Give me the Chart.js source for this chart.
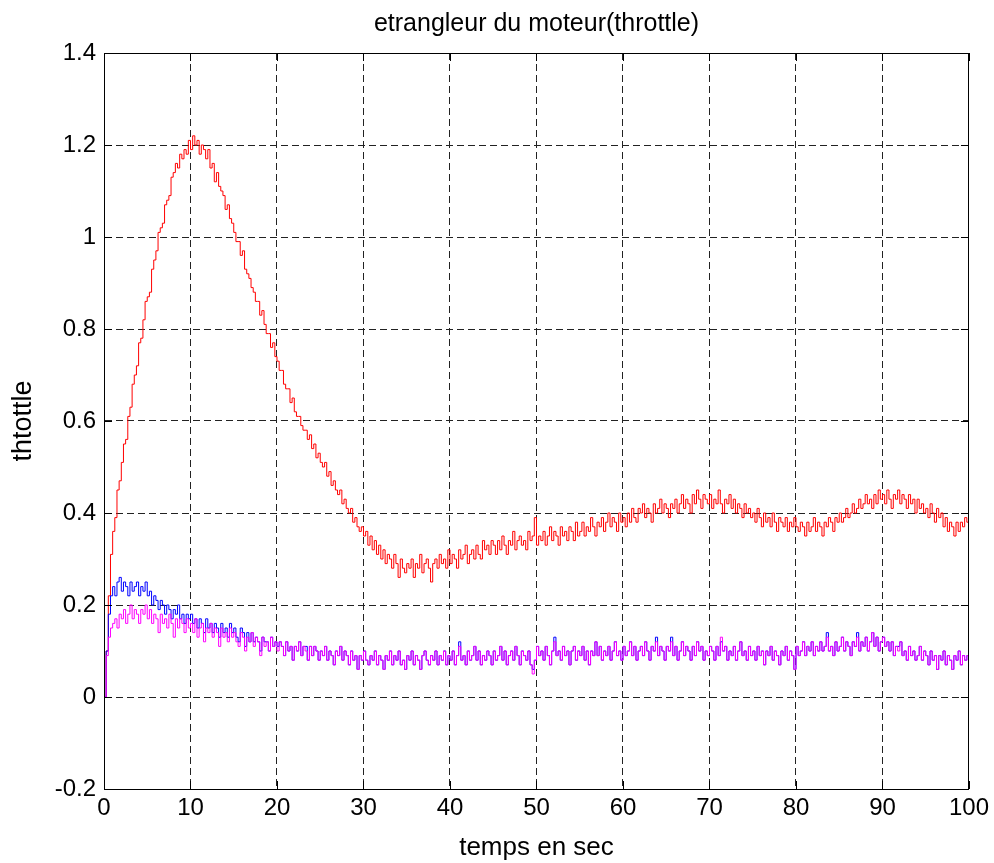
<!DOCTYPE html>
<html>
<head>
<meta charset="utf-8">
<title>etrangleur du moteur</title>
<script src="https://cdn.jsdelivr.net/npm/chart.js@4.4.0/dist/chart.umd.min.js"></script>
<style>
  html, body { margin: 0; padding: 0; background: #fff; }
  canvas { display: block; }
</style>
</head>
<body>
<canvas id="throttleChart" width="994" height="863"></canvas>
<script>
// sample period of the logged throttle signals, seconds
const dt = 0.25;

// one row = 5 s of samples
const redThrottle = [
  0.00, 0.10, 0.22, 0.31, 0.36, 0.39, 0.45, 0.47, 0.51, 0.55, 0.56, 0.61, 0.63, 0.68, 0.70, 0.72, 0.77, 0.78, 0.82, 0.86,
  0.87, 0.88, 0.93, 0.95, 0.97, 1.01, 1.02, 1.03, 1.07, 1.08, 1.09, 1.13, 1.14, 1.16, 1.15, 1.18, 1.17, 1.19, 1.18, 1.21,
  1.19, 1.22, 1.20, 1.21, 1.18, 1.20, 1.19, 1.17, 1.19, 1.15, 1.16, 1.12, 1.14, 1.11, 1.10, 1.09, 1.06, 1.07, 1.04, 1.03,
  1.01, 0.99, 0.99, 0.96, 0.97, 0.93, 0.92, 0.91, 0.89, 0.88, 0.86, 0.86, 0.83, 0.84, 0.81, 0.79, 0.79, 0.76, 0.77, 0.74,
  0.73, 0.71, 0.71, 0.68, 0.67, 0.67, 0.64, 0.65, 0.62, 0.61, 0.61, 0.59, 0.58, 0.58, 0.56, 0.57, 0.54, 0.55, 0.52, 0.53,
  0.51, 0.50, 0.51, 0.48, 0.49, 0.46, 0.47, 0.45, 0.44, 0.45, 0.42, 0.43, 0.41, 0.40, 0.41, 0.38, 0.39, 0.37, 0.36, 0.37,
  0.35, 0.36, 0.33, 0.35, 0.32, 0.34, 0.31, 0.33, 0.30, 0.32, 0.29, 0.31, 0.30, 0.28, 0.31, 0.29, 0.26, 0.30, 0.28, 0.27,
  0.29, 0.28, 0.30, 0.26, 0.29, 0.28, 0.31, 0.27, 0.29, 0.30, 0.28, 0.25, 0.29, 0.30, 0.28, 0.31, 0.29, 0.30, 0.28, 0.32,
  0.29, 0.31, 0.30, 0.28, 0.32, 0.30, 0.31, 0.33, 0.29, 0.31, 0.32, 0.30, 0.33, 0.31, 0.30, 0.34, 0.32, 0.33, 0.31, 0.34,
  0.33, 0.31, 0.34, 0.32, 0.35, 0.33, 0.31, 0.34, 0.33, 0.36, 0.32, 0.34, 0.35, 0.33, 0.34, 0.32, 0.36, 0.34, 0.35, 0.39,
  0.33, 0.35, 0.34, 0.36, 0.33, 0.35, 0.37, 0.34, 0.36, 0.35, 0.33, 0.37, 0.35, 0.36, 0.34, 0.37, 0.36, 0.34, 0.38, 0.35,
  0.36, 0.38, 0.35, 0.37, 0.36, 0.39, 0.37, 0.35, 0.38, 0.37, 0.39, 0.36, 0.38, 0.40, 0.37, 0.39, 0.38, 0.36, 0.40, 0.38,
  0.39, 0.37, 0.40, 0.38, 0.41, 0.39, 0.38, 0.41, 0.40, 0.42, 0.39, 0.41, 0.40, 0.38, 0.42, 0.40, 0.41, 0.43, 0.40, 0.42,
  0.41, 0.39, 0.42, 0.41, 0.43, 0.40, 0.42, 0.44, 0.41, 0.43, 0.42, 0.40, 0.44, 0.42, 0.45, 0.43, 0.41, 0.44, 0.43, 0.42,
  0.44, 0.41, 0.43, 0.42, 0.45, 0.42, 0.40, 0.43, 0.42, 0.44, 0.41, 0.43, 0.40, 0.42, 0.41, 0.39, 0.42, 0.40, 0.41, 0.39,
  0.40, 0.38, 0.41, 0.39, 0.37, 0.40, 0.38, 0.39, 0.37, 0.40, 0.38, 0.36, 0.39, 0.38, 0.37, 0.39, 0.36, 0.38, 0.37, 0.39,
  0.37, 0.36, 0.38, 0.37, 0.35, 0.38, 0.36, 0.37, 0.39, 0.36, 0.38, 0.37, 0.35, 0.38, 0.37, 0.39, 0.38, 0.36, 0.39, 0.38,
  0.40, 0.38, 0.39, 0.41, 0.39, 0.40, 0.42, 0.40, 0.41, 0.43, 0.41, 0.42, 0.44, 0.42, 0.43, 0.41, 0.44, 0.42, 0.45, 0.43,
  0.44, 0.42, 0.45, 0.43, 0.41, 0.44, 0.43, 0.45, 0.42, 0.44, 0.43, 0.41, 0.44, 0.42, 0.43, 0.40, 0.43, 0.41, 0.42, 0.40,
  0.41, 0.39, 0.42, 0.40, 0.38, 0.41, 0.39, 0.40, 0.37, 0.39, 0.36, 0.38, 0.37, 0.35, 0.38, 0.36, 0.38, 0.37, 0.39, 0.38,
  0.39
];

const blueThrottle = [
  0.00, 0.10, 0.18, 0.22, 0.24, 0.22, 0.25, 0.26, 0.23, 0.25, 0.24, 0.22, 0.25, 0.23, 0.24, 0.25, 0.22, 0.24, 0.23, 0.25,
  0.22, 0.23, 0.20, 0.22, 0.21, 0.19, 0.21, 0.20, 0.18, 0.20, 0.19, 0.17, 0.19, 0.18, 0.20, 0.17, 0.18, 0.16, 0.18, 0.17,
  0.18, 0.16, 0.17, 0.15, 0.17, 0.16, 0.14, 0.17, 0.15, 0.16, 0.14, 0.16, 0.15, 0.13, 0.16, 0.14, 0.15, 0.13, 0.16, 0.14,
  0.15, 0.13, 0.12, 0.15, 0.14, 0.11, 0.14, 0.12, 0.14, 0.12, 0.13, 0.12, 0.10, 0.13, 0.12, 0.12, 0.10, 0.13, 0.11, 0.12,
  0.11, 0.12, 0.11, 0.09, 0.12, 0.10, 0.11, 0.08, 0.11, 0.10, 0.12, 0.09, 0.11, 0.11, 0.08, 0.11, 0.09, 0.11, 0.10, 0.08,
  0.10, 0.09, 0.11, 0.08, 0.10, 0.09, 0.07, 0.10, 0.09, 0.11, 0.08, 0.10, 0.09, 0.07, 0.10, 0.08, 0.09, 0.06, 0.09, 0.08,
  0.10, 0.08, 0.07, 0.09, 0.08, 0.10, 0.07, 0.09, 0.08, 0.06, 0.09, 0.08, 0.10, 0.07, 0.09, 0.08, 0.10, 0.07, 0.08, 0.06,
  0.09, 0.08, 0.10, 0.07, 0.09, 0.08, 0.06, 0.09, 0.10, 0.08, 0.07, 0.09, 0.08, 0.10, 0.07, 0.09, 0.08, 0.10, 0.07, 0.09,
  0.08, 0.10, 0.07, 0.09, 0.12, 0.08, 0.09, 0.07, 0.10, 0.08, 0.09, 0.11, 0.08, 0.10, 0.07, 0.09, 0.08, 0.10, 0.09, 0.07,
  0.10, 0.08, 0.09, 0.11, 0.08, 0.10, 0.07, 0.09, 0.10, 0.08, 0.11, 0.09, 0.07, 0.10, 0.09, 0.08, 0.10, 0.07, 0.06, 0.08,
  0.11, 0.09, 0.10, 0.08, 0.11, 0.09, 0.07, 0.10, 0.13, 0.09, 0.10, 0.08, 0.11, 0.09, 0.10, 0.07, 0.10, 0.11, 0.08, 0.10,
  0.09, 0.11, 0.08, 0.10, 0.07, 0.10, 0.09, 0.12, 0.09, 0.11, 0.08, 0.10, 0.09, 0.11, 0.08, 0.10, 0.12, 0.09, 0.10, 0.08,
  0.11, 0.09, 0.10, 0.12, 0.09, 0.11, 0.08, 0.10, 0.11, 0.09, 0.12, 0.10, 0.08, 0.11, 0.10, 0.13, 0.09, 0.11, 0.10, 0.08,
  0.11, 0.10, 0.13, 0.09, 0.11, 0.08, 0.10, 0.12, 0.09, 0.11, 0.10, 0.08, 0.11, 0.09, 0.12, 0.10, 0.11, 0.08, 0.10, 0.09,
  0.11, 0.10, 0.08, 0.11, 0.09, 0.12, 0.10, 0.11, 0.08, 0.10, 0.09, 0.11, 0.08, 0.10, 0.12, 0.09, 0.10, 0.08, 0.11, 0.09,
  0.10, 0.08, 0.11, 0.09, 0.10, 0.07, 0.10, 0.09, 0.11, 0.08, 0.10, 0.09, 0.07, 0.10, 0.09, 0.11, 0.08, 0.10, 0.09, 0.06,
  0.11, 0.09, 0.10, 0.12, 0.09, 0.11, 0.10, 0.12, 0.09, 0.11, 0.10, 0.12, 0.10, 0.11, 0.14, 0.10, 0.11, 0.09, 0.12, 0.10,
  0.11, 0.13, 0.10, 0.12, 0.11, 0.09, 0.12, 0.11, 0.14, 0.10, 0.12, 0.11, 0.13, 0.10, 0.12, 0.14, 0.11, 0.13, 0.10, 0.12,
  0.13, 0.11, 0.12, 0.10, 0.12, 0.09, 0.11, 0.11, 0.12, 0.09, 0.10, 0.08, 0.11, 0.09, 0.10, 0.08, 0.09, 0.11, 0.08, 0.10,
  0.09, 0.07, 0.10, 0.08, 0.09, 0.06, 0.09, 0.08, 0.10, 0.07, 0.09, 0.08, 0.06, 0.09, 0.08, 0.10, 0.07, 0.09, 0.08, 0.09,
  0.10
];

const magentaThrottle = [
  0.00, 0.09, 0.13, 0.15, 0.16, 0.17, 0.15, 0.18, 0.17, 0.19, 0.16, 0.18, 0.20, 0.17, 0.19, 0.18, 0.16, 0.19, 0.18, 0.20,
  0.17, 0.19, 0.16, 0.18, 0.17, 0.14, 0.18, 0.16, 0.17, 0.15, 0.18, 0.16, 0.13, 0.17, 0.15, 0.17, 0.16, 0.14, 0.17, 0.15,
  0.16, 0.14, 0.17, 0.13, 0.15, 0.16, 0.12, 0.15, 0.14, 0.16, 0.13, 0.15, 0.14, 0.11, 0.15, 0.13, 0.14, 0.12, 0.15, 0.13,
  0.14, 0.12, 0.11, 0.14, 0.13, 0.10, 0.13, 0.12, 0.14, 0.11, 0.13, 0.12, 0.09, 0.13, 0.11, 0.12, 0.10, 0.13, 0.11, 0.12,
  0.10, 0.12, 0.11, 0.09, 0.12, 0.10, 0.11, 0.08, 0.11, 0.10, 0.12, 0.09, 0.11, 0.10, 0.08, 0.11, 0.09, 0.11, 0.10, 0.08,
  0.10, 0.09, 0.11, 0.08, 0.10, 0.09, 0.07, 0.10, 0.09, 0.11, 0.08, 0.10, 0.09, 0.07, 0.10, 0.08, 0.09, 0.06, 0.09, 0.08,
  0.10, 0.08, 0.07, 0.09, 0.08, 0.10, 0.07, 0.09, 0.08, 0.06, 0.09, 0.08, 0.10, 0.07, 0.09, 0.08, 0.10, 0.07, 0.08, 0.06,
  0.09, 0.08, 0.10, 0.07, 0.09, 0.08, 0.06, 0.09, 0.10, 0.08, 0.07, 0.09, 0.08, 0.10, 0.07, 0.09, 0.08, 0.10, 0.07, 0.09,
  0.08, 0.10, 0.07, 0.09, 0.11, 0.08, 0.09, 0.07, 0.10, 0.08, 0.09, 0.11, 0.08, 0.10, 0.07, 0.09, 0.08, 0.10, 0.09, 0.07,
  0.10, 0.08, 0.09, 0.11, 0.08, 0.10, 0.07, 0.09, 0.10, 0.08, 0.11, 0.09, 0.07, 0.10, 0.09, 0.08, 0.10, 0.07, 0.05, 0.08,
  0.11, 0.09, 0.10, 0.08, 0.11, 0.09, 0.07, 0.10, 0.12, 0.09, 0.10, 0.08, 0.11, 0.09, 0.10, 0.07, 0.10, 0.11, 0.08, 0.10,
  0.09, 0.11, 0.08, 0.10, 0.07, 0.10, 0.09, 0.12, 0.09, 0.11, 0.08, 0.10, 0.09, 0.11, 0.08, 0.10, 0.12, 0.09, 0.10, 0.08,
  0.11, 0.09, 0.10, 0.12, 0.09, 0.11, 0.08, 0.10, 0.11, 0.09, 0.12, 0.10, 0.08, 0.11, 0.10, 0.12, 0.09, 0.11, 0.10, 0.08,
  0.11, 0.10, 0.12, 0.09, 0.11, 0.08, 0.10, 0.12, 0.09, 0.11, 0.10, 0.08, 0.11, 0.09, 0.12, 0.10, 0.11, 0.08, 0.10, 0.09,
  0.11, 0.10, 0.08, 0.11, 0.09, 0.13, 0.10, 0.11, 0.08, 0.10, 0.09, 0.11, 0.08, 0.10, 0.12, 0.09, 0.10, 0.08, 0.11, 0.09,
  0.10, 0.08, 0.11, 0.09, 0.10, 0.07, 0.10, 0.09, 0.11, 0.08, 0.10, 0.09, 0.07, 0.10, 0.09, 0.11, 0.08, 0.10, 0.09, 0.06,
  0.11, 0.09, 0.10, 0.12, 0.09, 0.11, 0.10, 0.12, 0.09, 0.11, 0.10, 0.12, 0.10, 0.11, 0.13, 0.10, 0.11, 0.09, 0.12, 0.10,
  0.11, 0.13, 0.10, 0.12, 0.11, 0.09, 0.12, 0.11, 0.13, 0.10, 0.12, 0.11, 0.13, 0.10, 0.12, 0.14, 0.11, 0.13, 0.10, 0.12,
  0.13, 0.11, 0.12, 0.10, 0.12, 0.09, 0.11, 0.10, 0.12, 0.09, 0.10, 0.08, 0.11, 0.09, 0.10, 0.08, 0.09, 0.11, 0.08, 0.10,
  0.09, 0.07, 0.10, 0.08, 0.09, 0.06, 0.09, 0.08, 0.10, 0.07, 0.09, 0.08, 0.06, 0.09, 0.08, 0.10, 0.07, 0.09, 0.08, 0.09,
  0.10
];

const xTicks = [0, 10, 20, 30, 40, 50, 60, 70, 80, 90, 100];
const yTicks = [-0.2, 0, 0.2, 0.4, 0.6, 0.8, 1, 1.2, 1.4];

const FONT = 'Liberation Sans, Arial, sans-serif';

const toPoints = arr => arr.map((v, i) => ({ x: i * dt, y: v }));

// solid frame with short inward tick marks on all four sides
const axesBox = {
  id: 'axesBox',
  afterDraw(chart) {
    const { ctx, chartArea: a, scales: { x, y } } = chart;
    const len = 8;
    ctx.save();
    ctx.strokeStyle = '#000';
    ctx.lineWidth = 1;
    ctx.setLineDash([]);
    ctx.beginPath();
    x.ticks.forEach(t => {
      const px = Math.round(x.getPixelForValue(t.value)) + 0.5;
      ctx.moveTo(px, a.bottom); ctx.lineTo(px, a.bottom - len);
      ctx.moveTo(px, a.top); ctx.lineTo(px, a.top + len);
    });
    y.ticks.forEach(t => {
      const py = Math.round(y.getPixelForValue(t.value)) + 0.5;
      ctx.moveTo(a.left, py); ctx.lineTo(a.left + len, py);
      ctx.moveTo(a.right, py); ctx.lineTo(a.right - len, py);
    });
    ctx.stroke();
    ctx.strokeRect(Math.round(a.left) + 0.5, Math.round(a.top) + 0.5,
      Math.round(a.width) - 1, Math.round(a.height));
    ctx.restore();
  }
};

// lower `order` is painted last, so magenta sits over blue
const line = (data, color, order) => ({
  data: toPoints(data),
  borderColor: color,
  borderWidth: 1,
  pointRadius: 0,
  stepped: true,
  fill: false,
  order: order
});

new Chart(document.getElementById('throttleChart'), {
  type: 'line',
  data: {
    datasets: [
      line(redThrottle, '#ff0000', 2),
      line(blueThrottle, '#0000ff', 1),
      line(magentaThrottle, '#ff00ff', 0)
    ]
  },
  options: {
    responsive: false,
    animation: false,
    layout: { padding: { left: 0, right: 24, top: 0, bottom: 0 } },
    plugins: {
      legend: { display: false },
      tooltip: { enabled: false },
      title: {
        display: true,
        fullSize: false,
        text: 'etrangleur du moteur(throttle)',
        color: '#000',
        font: { family: FONT, size: 25, weight: 'normal' },
        padding: { top: 9, bottom: 14 }
      }
    },
    scales: {
      x: {
        type: 'linear',
        min: xTicks[0],
        max: xTicks[xTicks.length - 1],
        afterBuildTicks: s => { s.ticks = xTicks.map(v => ({ value: v })); },
        afterFit: s => { s.height = 74; },
        ticks: {
          color: '#000',
          font: { family: FONT, size: 24 },
          padding: 5,
          maxRotation: 0
        },
        grid: { color: '#222', lineWidth: 1, drawTicks: false },
        border: { display: true, color: '#000', dash: [7, 4] },
        title: {
          display: true,
          text: 'temps en sec',
          color: '#000',
          font: { family: FONT, size: 26 },
          padding: { top: 0, bottom: 0 }
        }
      },
      y: {
        min: yTicks[0],
        max: yTicks[yTicks.length - 1],
        afterBuildTicks: s => { s.ticks = yTicks.map(v => ({ value: v })); },
        afterFit: s => { s.width = 104; },
        ticks: {
          color: '#000',
          font: { family: FONT, size: 24 },
          padding: 8,
          callback: v => String(Number(v.toFixed(1)))
        },
        grid: { color: '#222', lineWidth: 1, drawTicks: false },
        border: { display: true, color: '#000', dash: [7, 4] },
        title: {
          display: true,
          text: 'thtottle',
          color: '#000',
          font: { family: FONT, size: 27 },
          padding: { top: 7, bottom: 0 }
        }
      }
    }
  },
  plugins: [axesBox]
});
</script>
</body>
</html>
